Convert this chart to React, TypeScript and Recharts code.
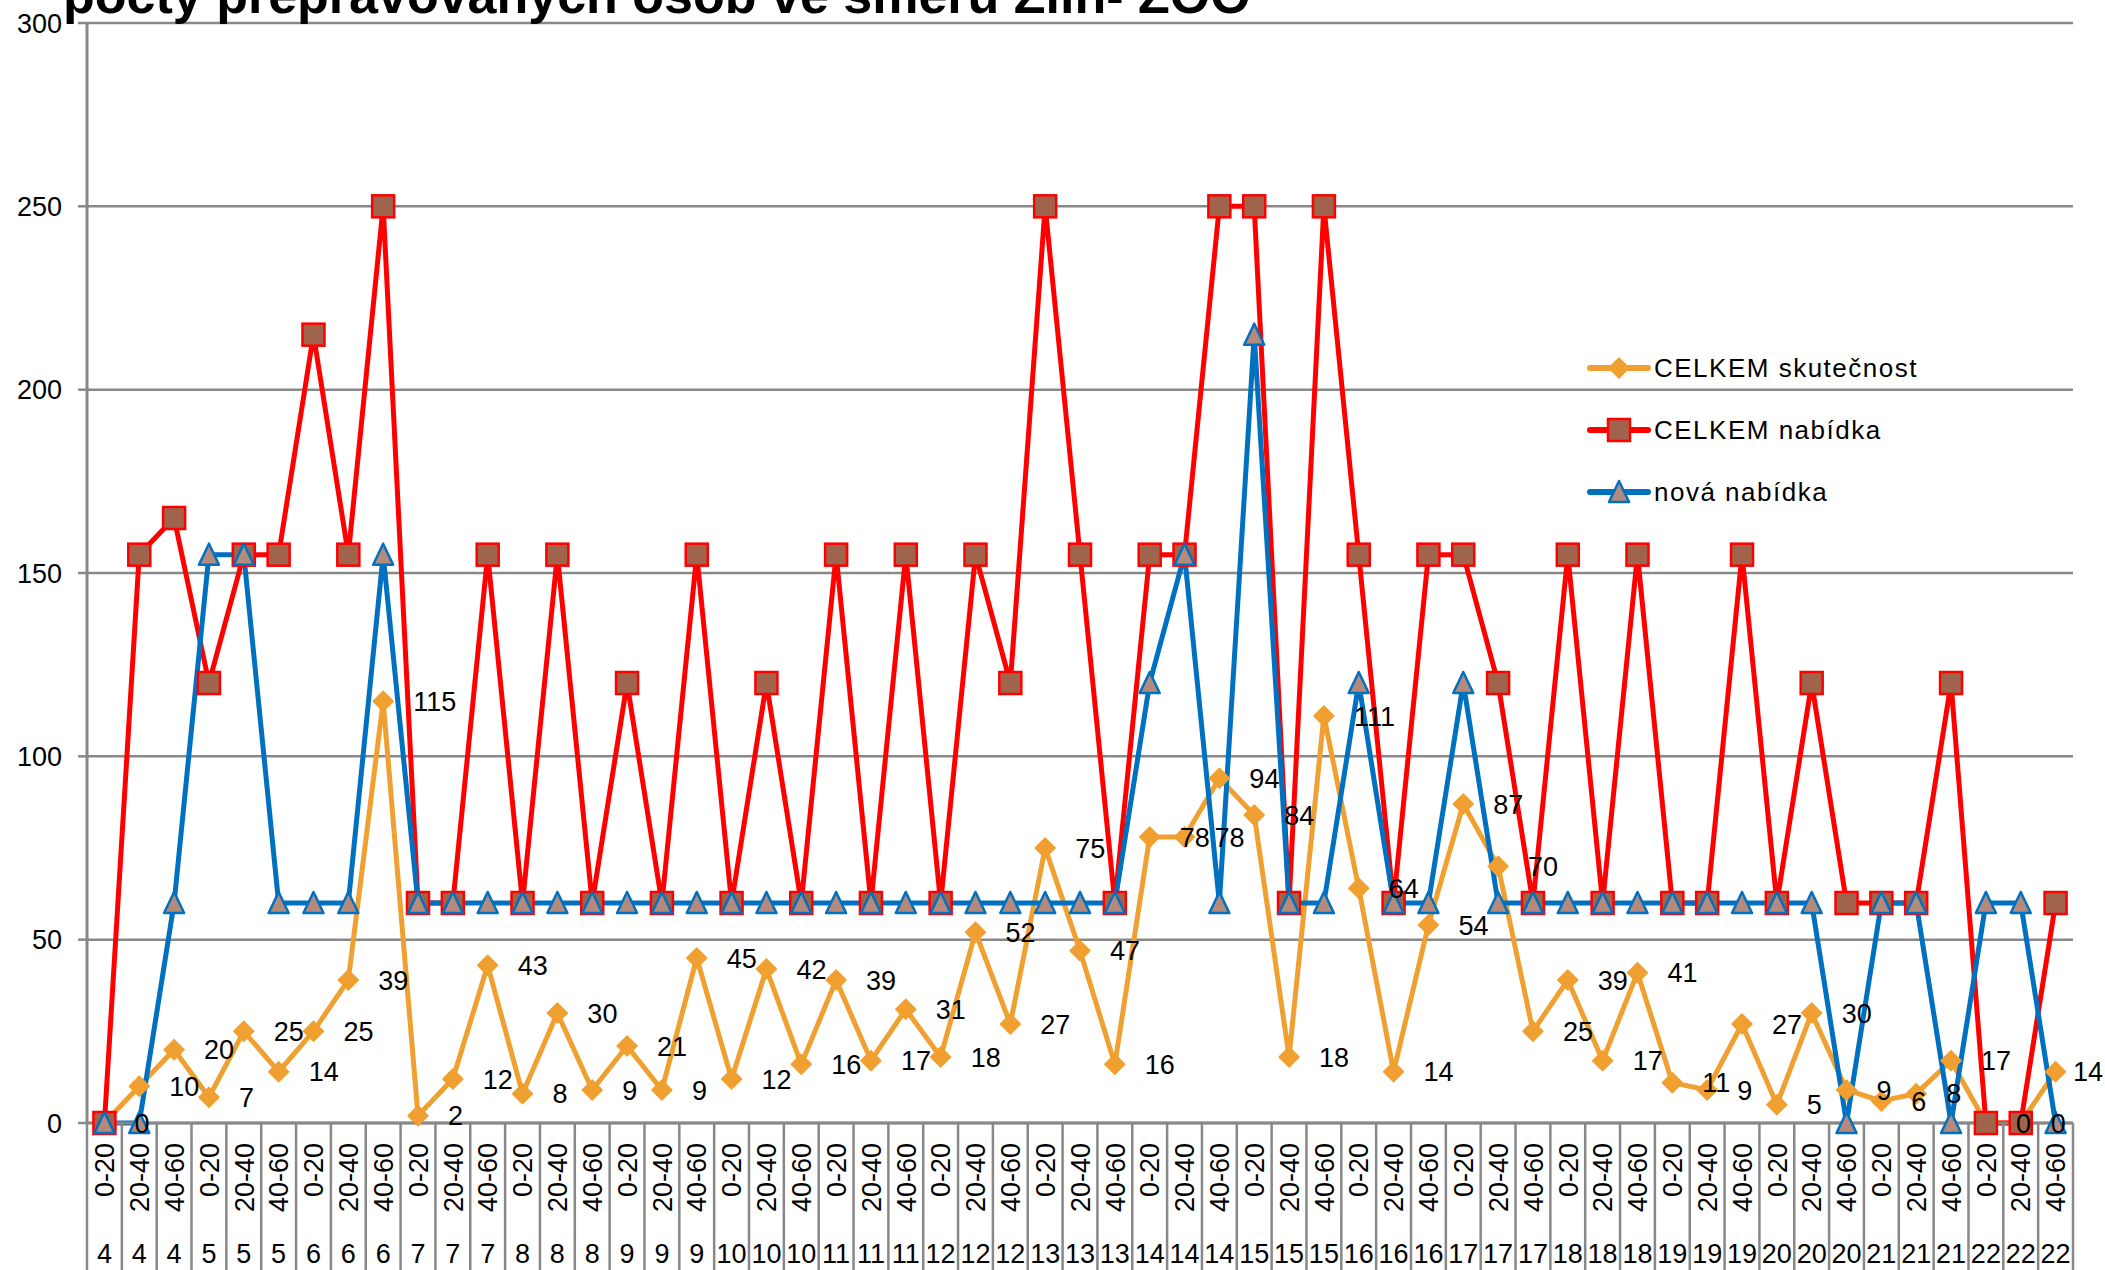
import { CartesianGrid, LabelList, Legend, Line, LineChart, XAxis, YAxis } from "recharts";

const FONT = "'Liberation Sans', Arial, sans-serif";
const GRID = "#888888";
const ORANGE = "#F0A030";
const RED = "#FF0000";
const BLUE = "#0070C0";
const SQUARE_FILL = "#A0634C";
const TRIANGLE_FILL = "#B38A7C";

const TITLE = "počty přepravovaných osob ve směru Zlín- ZOO";

const DAYS = [4, 5, 6, 7, 8, 9, 10, 11, 12, 13, 14, 15, 16, 17, 18, 19, 20, 21, 22];
const SLOTS = ["0-20", "20-40", "40-60"];
const Y_TICKS = [0, 50, 100, 150, 200, 250, 300];

// CELKEM skutečnost
const ACTUAL = [
  0, 10, 20, 7, 25, 14, 25, 39, 115, 2, 12, 43, 8, 30, 9, 21, 9, 45, 12, 42, 16, 39, 17, 31, 18, 52, 27,
  75, 47, 16, 78, 78, 94, 84, 18, 111, 64, 14, 54, 87, 70, 25, 39, 17, 41, 11, 9, 27, 5, 30, 9, 6, 8, 17,
  0, 0, 14,
];
// CELKEM nabídka
const OFFER = [
  0, 155, 165, 120, 155, 155, 215, 155, 250, 60, 60, 155, 60, 155, 60, 120, 60, 155, 60, 120, 60, 155, 60,
  155, 60, 155, 120, 250, 155, 60, 155, 155, 250, 250, 60, 250, 155, 60, 155, 155, 120, 60, 155, 60, 155,
  60, 60, 155, 60, 120, 60, 60, 60, 120, 0, 0, 60,
];
// nová nabídka
const NEW_OFFER = [
  0, 0, 60, 155, 155, 60, 60, 60, 155, 60, 60, 60, 60, 60, 60, 60, 60, 60, 60, 60, 60, 60, 60, 60, 60, 60,
  60, 60, 60, 60, 120, 155, 60, 215, 60, 60, 120, 60, 60, 120, 60, 60, 60, 60, 60, 60, 60, 60, 60, 60, 0,
  60, 60, 0, 60, 60, 0,
];

const W = 2105;
const H = 1270;
const MARGIN = { top: 23, right: 32, bottom: 0, left: 0 };
const Y_AXIS_W = 87;
const X_AXIS_H = 147;
const N = DAYS.length * SLOTS.length;
const STEP = (W - MARGIN.right - MARGIN.left - Y_AXIS_W) / N;
const AXIS_Y = H - X_AXIS_H;
const LABEL_SIZE = 27;

const data = DAYS.flatMap((day, d) =>
  SLOTS.map((slot, s) => {
    const i = d * SLOTS.length + s;
    return {
      key: `${day}|${slot}`,
      actual: ACTUAL[i],
      offer: OFFER[i],
      newOffer: NEW_OFFER[i],
    };
  }),
);

function diamond(cx: number, cy: number, key?: any) {
  return (
    <path
      key={key}
      d={`M${cx},${cy - 10}L${cx + 10},${cy}L${cx},${cy + 10}L${cx - 10},${cy}Z`}
      fill={ORANGE}
      stroke={ORANGE}
      strokeWidth={1.5}
      strokeLinejoin="round"
    />
  );
}

function square(cx: number, cy: number, key?: any) {
  return (
    <rect
      key={key}
      x={cx - 11}
      y={cy - 11}
      width={22}
      height={22}
      fill={SQUARE_FILL}
      stroke={RED}
      strokeWidth={2.5}
    />
  );
}

function triangle(cx: number, cy: number, key?: any) {
  return (
    <path
      key={key}
      d={`M${cx},${cy - 11}L${cx + 10},${cy + 10}L${cx - 10},${cy + 10}Z`}
      fill={TRIANGLE_FILL}
      stroke={BLUE}
      strokeWidth={2.5}
      strokeLinejoin="round"
    />
  );
}

const SERIES = [
  { name: "CELKEM skutečnost", color: ORANGE, marker: diamond },
  { name: "CELKEM nabídka", color: RED, marker: square },
  { name: "nová nabídka", color: BLUE, marker: triangle },
];

function CategoryTick(props: any) {
  const { x, index, payload } = props;
  const [day, slot] = String(payload.value).split("|");
  return (
    <g>
      <line x1={x - STEP / 2} x2={x - STEP / 2} y1={AXIS_Y} y2={H} stroke={GRID} strokeWidth={2.5} />
      {index === N - 1 && (
        <line x1={x + STEP / 2} x2={x + STEP / 2} y1={AXIS_Y} y2={H} stroke={GRID} strokeWidth={2.5} />
      )}
      <text
        transform={`translate(${x},${AXIS_Y + 20}) rotate(-90)`}
        textAnchor="end"
        dy="0.36em"
        fontSize={27}
        fontFamily={FONT}
        fill="#000"
      >
        {slot}
      </text>
      <text x={x} y={H - 7} textAnchor="middle" fontSize={27} fontFamily={FONT} fill="#000">
        {day}
      </text>
    </g>
  );
}

// value label right of the point, pushed back inside the picture near the right edge
function ValueLabel(props: any) {
  const { x, y, value } = props;
  const textW = String(value).length * LABEL_SIZE * 0.556;
  const left = Math.min(x + 30, W - 2 - textW);
  return (
    <text x={left} y={y} dy="0.36em" fontSize={LABEL_SIZE} fontFamily={FONT} fill="#000">
      {value}
    </text>
  );
}

function LegendContent() {
  return (
    <div style={{ fontFamily: FONT }}>
      {SERIES.map((s) => (
        <div key={s.name} style={{ display: "flex", alignItems: "center", height: 62 }}>
          <svg width={64} height={30} style={{ display: "block" }}>
            <line x1={3} x2={61} y1={15} y2={15} stroke={s.color} strokeWidth={6} strokeLinecap="round" />
            {s.marker(32, 15)}
          </svg>
          <span style={{ fontSize: 26, letterSpacing: 1.5, color: "#000", marginLeft: 3, whiteSpace: "nowrap" }}>
            {s.name}
          </span>
        </div>
      ))}
    </div>
  );
}

export default function App() {
  return (
    <div
      style={{
        position: "absolute",
        left: 0,
        top: 0,
        width: W,
        height: H,
        overflow: "hidden",
        background: "#fff",
        fontFamily: FONT,
      }}
    >
      <LineChart width={W} height={H} data={data} margin={MARGIN}>
        <CartesianGrid horizontal vertical={false} stroke={GRID} strokeWidth={2.5} />
        <XAxis
          dataKey="key"
          interval={0}
          height={X_AXIS_H}
          padding={{ left: STEP / 2, right: STEP / 2 }}
          tickLine={false}
          axisLine={{ stroke: GRID, strokeWidth: 3 }}
          tick={<CategoryTick />}
        />
        <YAxis
          domain={[0, 300]}
          ticks={Y_TICKS}
          width={Y_AXIS_W}
          tickSize={9}
          tickMargin={16}
          axisLine={{ stroke: GRID, strokeWidth: 3 }}
          tickLine={{ stroke: GRID, strokeWidth: 2.5 }}
          tick={{ fill: "#000", fontSize: 27, fontFamily: FONT }}
        />
        <Legend
          layout="vertical"
          align="center"
          verticalAlign="middle"
          content={<LegendContent />}
          wrapperStyle={{ left: 1587, top: 337, width: 480 }}
        />
        <Line
          type="linear"
          dataKey="actual"
          name="CELKEM skutečnost"
          stroke={ORANGE}
          strokeWidth={5}
          dot={(p: any) => diamond(p.cx, p.cy, `a${p.index}`)}
          activeDot={false}
          isAnimationActive={false}
        />
        <Line
          type="linear"
          dataKey="offer"
          name="CELKEM nabídka"
          stroke={RED}
          strokeWidth={5}
          dot={(p: any) => square(p.cx, p.cy, `o${p.index}`)}
          activeDot={false}
          isAnimationActive={false}
        />
        <Line
          type="linear"
          dataKey="newOffer"
          name="nová nabídka"
          stroke={BLUE}
          strokeWidth={5}
          dot={(p: any) => triangle(p.cx, p.cy, `n${p.index}`)}
          activeDot={false}
          isAnimationActive={false}
        />
        {/* labels of the actual counts, drawn above every series */}
        <Line
          type="linear"
          dataKey="actual"
          stroke="none"
          dot={false}
          activeDot={false}
          legendType="none"
          isAnimationActive={false}
        >
          <LabelList dataKey="actual" content={<ValueLabel />} />
        </Line>
      </LineChart>
      <svg width={W} height={40} style={{ position: "absolute", left: 0, top: 0, pointerEvents: "none" }}>
        <text x={63} y={13} fontSize={52} fontWeight="bold" fontFamily={FONT} fill="#000">
          {TITLE}
        </text>
      </svg>
    </div>
  );
}
